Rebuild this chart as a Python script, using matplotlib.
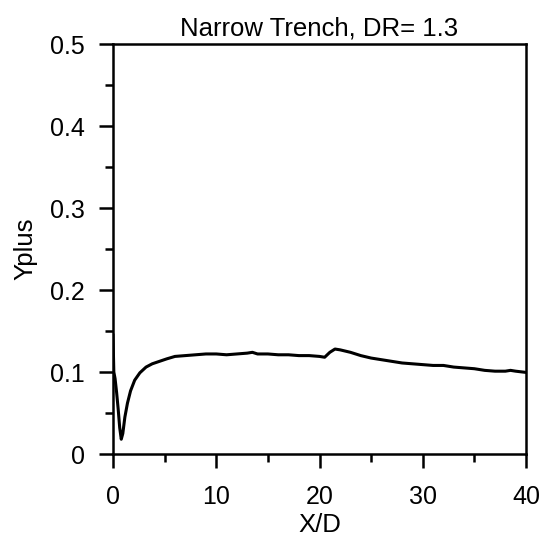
import matplotlib
matplotlib.use("Agg")
import matplotlib.pyplot as plt
from matplotlib.ticker import MultipleLocator

plt.rcParams['font.family'] = ['Liberation Sans', 'DejaVu Sans']

x_d = [0.0, 0.08, 0.2, 0.35, 0.5, 0.65, 0.8, 0.95, 1.15, 1.4, 1.7, 2.1, 2.6, 3.2, 3.8, 4.5,
       5.2, 6.0, 7.0, 8.0, 9.0, 10.0, 11.0, 12.0, 13.0, 13.5, 14.0, 15.0, 16.0, 17.0,
       18.0, 19.0, 20.0, 20.5, 21.0, 21.5, 22.0, 23.0, 24.0, 25.0, 26.0, 27.0, 28.0,
       29.0, 30.0, 31.0, 32.0, 33.0, 34.0, 35.0, 36.0, 37.0, 38.0, 38.5, 39.0, 40.0]
yplus = [0.145, 0.100, 0.092, 0.075, 0.055, 0.032, 0.018, 0.025, 0.045, 0.062, 0.077, 0.090,
         0.099, 0.106, 0.110, 0.113, 0.116, 0.119, 0.120, 0.121, 0.122, 0.122, 0.121,
         0.122, 0.123, 0.124, 0.122, 0.122, 0.121, 0.121, 0.120, 0.120, 0.119, 0.118,
         0.124, 0.128, 0.127, 0.124, 0.120, 0.117, 0.115, 0.113, 0.111, 0.110, 0.109,
         0.108, 0.108, 0.106, 0.105, 0.104, 0.102, 0.101, 0.101, 0.102, 0.101, 0.0995]

title = "Narrow Trench, DR= 1.3"
xlabel = "X/D"
ylabel = "Yplus"
yticks = [0, 0.1, 0.2, 0.3, 0.4, 0.5]
yticklabels = ['0', '0.1', '0.2', '0.3', '0.4', '0.5']

fig = plt.figure(figsize=(5.42, 5.38), dpi=100)
ax = fig.add_axes([113/542, 1-454/538, 413/542, 410/538])
ax.plot(x_d, yplus, color='black', lw=2.2, solid_joinstyle='round')
ax.set_xlim(0, 40)
ax.set_ylim(0, 0.5)
ax.xaxis.set_major_locator(MultipleLocator(10))
ax.xaxis.set_minor_locator(MultipleLocator(5))
ax.set_yticks(yticks)
ax.set_yticklabels(yticklabels)
ax.yaxis.set_minor_locator(MultipleLocator(0.05))
for s in ax.spines.values():
    s.set_linewidth(1.8)
ax.tick_params(which='major', direction='out', length=10, width=1.8, labelsize=18, pad=10)
ax.tick_params(which='minor', direction='out', length=5.5, width=1.8)
ax.tick_params(axis='x', which='major', pad=12)
ax.set_title(title, fontsize=18.5, pad=6)
ax.set_xlabel(xlabel, fontsize=18.5, labelpad=3)
ax.set_ylabel(ylabel, fontsize=18.5, labelpad=9)
fig.savefig('out.png', dpi=100)
